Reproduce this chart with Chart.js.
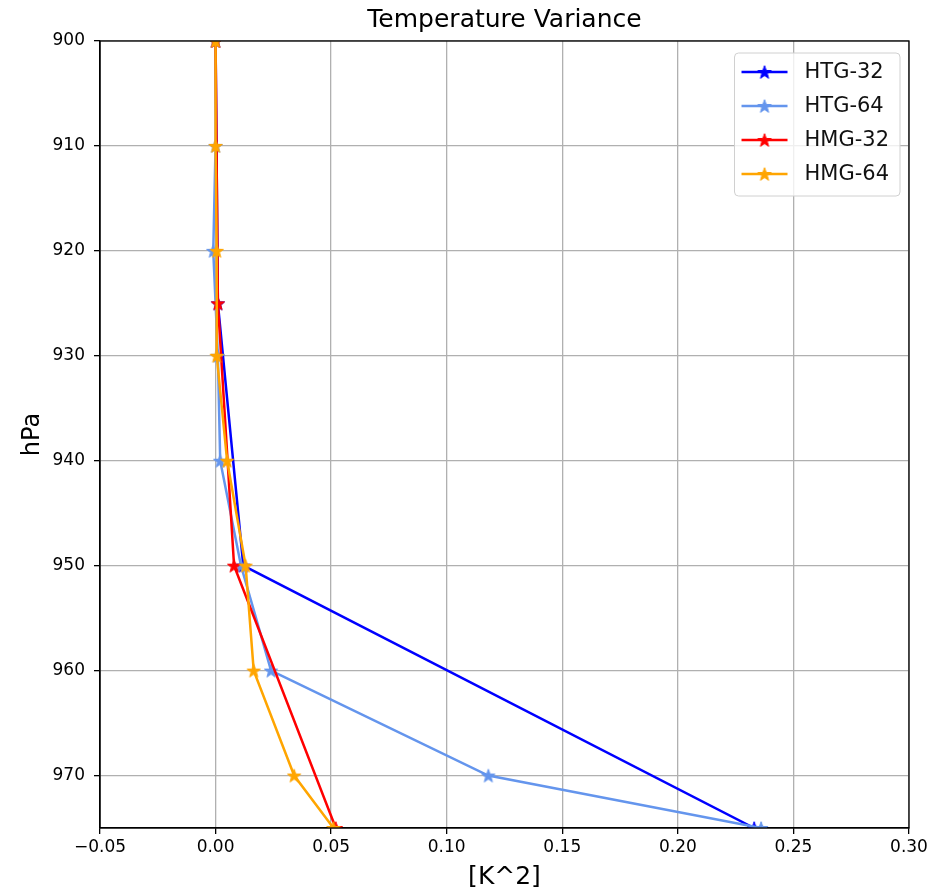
<!DOCTYPE html>
<html>
<head>
<meta charset="utf-8">
<script src="https://cdn.jsdelivr.net/npm/chart.js@4.4.1/dist/chart.umd.min.js"></script>
<style>
  html, body { margin: 0; padding: 0; background: #fff; }
  #wrap { width: 931px; height: 892px; }
</style>
</head>
<body>
<div id="wrap"><canvas id="chart" width="931" height="892"></canvas></div>
<script>
// pressure levels (hPa)
const levels32 = [900, 925, 950, 975];
const levels64 = [900, 910, 920, 930, 940, 950, 960, 970, 975];

// temperature variance [K^2]
const htg32 = [0.000, 0.001, 0.012, 0.233];
const htg64 = [0.000, 0.000, -0.001, 0.001, 0.002, 0.011, 0.024, 0.118, 0.236];
const hmg32 = [0.000, 0.001, 0.008, 0.052];
const hmg64 = [0.000, 0.000, 0.0005, 0.0005, 0.005, 0.013, 0.0165, 0.034, 0.051];

const seriesNames = ['HTG-32', 'HTG-64', 'HMG-32', 'HMG-64'];
const seriesColors = ['#0000ff', '#6495ed', '#ff0000', '#ffa500'];

const xTicks = [-0.05, 0.00, 0.05, 0.10, 0.15, 0.20, 0.25, 0.30];
const yTicks = [900, 910, 920, 930, 940, 950, 960, 970];

const FONT = 'DejaVu Sans';
Chart.defaults.font.family = FONT;

// filled five point star like matplotlib's '*' marker
function makeStar(color, r) {
    const s = Math.ceil(r * 2 + 2);
    const c = document.createElement('canvas');
    c.width = s;
    c.height = s;
    const g = c.getContext('2d');
    g.beginPath();
    for (let i = 0; i < 10; i++) {
        const rad = i % 2 === 0 ? r : r * 0.4;
        const a = -Math.PI / 2 + i * Math.PI / 5;
        const px = s / 2 + rad * Math.cos(a);
        const py = s / 2 + rad * Math.sin(a) + r * 0.1;
        if (i === 0) g.moveTo(px, py); else g.lineTo(px, py);
    }
    g.closePath();
    g.fillStyle = color;
    g.fill();
    g.strokeStyle = color;
    g.lineWidth = 1;
    g.stroke();
    return c;
}

const stars = seriesColors.map(c => makeStar(c, 7));

function toPoints(levels, vals) {
    return levels.map((p, i) => ({ x: vals[i], y: p }));
}

const seriesData = [
    toPoints(levels32, htg32),
    toPoints(levels64, htg64),
    toPoints(levels32, hmg32),
    toPoints(levels64, hmg64)
];

// box round the axes (matplotlib spines sit above the lines)
const frame = {
    id: 'frame',
    afterDatasetsDraw(chart) {
        const { ctx, chartArea: a } = chart;
        ctx.save();
        ctx.strokeStyle = '#000';
        ctx.lineWidth = 1.3;
        ctx.strokeRect(a.left, a.top, a.right - a.left, a.bottom - a.top);
        ctx.restore();
    }
};

// legend inside the upper right corner
const innerLegend = {
    id: 'innerLegend',
    afterDraw(chart) {
        const { ctx, chartArea: a } = chart;
        ctx.save();
        ctx.font = '21px "' + FONT + '"';
        let maxW = 0;
        seriesNames.forEach(n => { maxW = Math.max(maxW, ctx.measureText(n).width); });
        const w = 70 + maxW + 11;
        const h = 143;
        const right = a.right - 9;
        const left = right - w;
        const top = a.top + 12;

        ctx.beginPath();
        ctx.roundRect(left, top, w, h, 4);
        ctx.fillStyle = 'rgba(255,255,255,0.8)';
        ctx.fill();
        ctx.strokeStyle = '#d0d0d0';
        ctx.lineWidth = 1;
        ctx.stroke();

        seriesNames.forEach((name, i) => {
            const y = top + 19 + i * 34;
            ctx.beginPath();
            ctx.moveTo(left + 7, y);
            ctx.lineTo(left + 53, y);
            ctx.strokeStyle = seriesColors[i];
            ctx.lineWidth = 2.5;
            ctx.stroke();
            const st = stars[i];
            ctx.drawImage(st, left + 30 - st.width / 2, y - st.height / 2);
            ctx.fillStyle = '#111';
            ctx.textBaseline = 'middle';
            ctx.textAlign = 'left';
            ctx.fillText(name, left + 70, y + 1);
        });
        ctx.restore();
    }
};

const ctx = document.getElementById('chart').getContext('2d');
new Chart(ctx, {
    type: 'scatter',
    data: {
        datasets: seriesNames.map((name, i) => ({
            label: name,
            data: seriesData[i],
            showLine: true,
            borderColor: seriesColors[i],
            backgroundColor: seriesColors[i],
            borderWidth: 2.5,
            pointStyle: stars[i],
            pointRadius: 6,
            tension: 0,
            order: seriesNames.length - i // later series on top, as in matplotlib
        }))
    },
    options: {
        responsive: false,
        animation: false,
        devicePixelRatio: 1,
        layout: { padding: { left: 0, right: 22, top: 0, bottom: 0 } },
        scales: {
            x: {
                type: 'linear',
                position: 'bottom',
                min: -0.05,
                max: 0.30,
                afterBuildTicks: scale => { scale.ticks = xTicks.map(v => ({ value: v })); },
                afterFit: scale => { scale.height = 64; },
                ticks: {
                    font: { size: 17 },
                    color: '#000',
                    padding: 3,
                    maxRotation: 0,
                    callback: v => (v < 0 ? '\u2212' : '') + Math.abs(v).toFixed(2)
                },
                grid: { color: '#b0b0b0', lineWidth: 1.3, tickColor: '#000', tickLength: 6 },
                border: { color: '#000', width: 1.3 },
                title: {
                    display: true,
                    text: '[K^2]',
                    font: { size: 25 },
                    color: '#000',
                    padding: { top: 0, bottom: 0 }
                }
            },
            y: {
                type: 'linear',
                reverse: true,
                min: 900,
                max: 975,
                afterBuildTicks: scale => { scale.ticks = yTicks.map(v => ({ value: v })); },
                afterFit: scale => { scale.width = 100; },
                ticks: {
                    font: { size: 17 },
                    color: '#000',
                    padding: 9,
                    callback: v => String(v)
                },
                grid: { color: '#b0b0b0', lineWidth: 1.3, tickColor: '#000', tickLength: 6 },
                border: { color: '#000', width: 1.3 },
                title: {
                    display: true,
                    text: 'hPa',
                    font: { size: 24 },
                    color: '#000',
                    padding: { top: 18, bottom: 0 }
                }
            }
        },
        plugins: {
            title: {
                display: true,
                fullSize: false, // centre over the plot area like matplotlib
                text: 'Temperature Variance',
                font: { size: 25, weight: 'normal' },
                color: '#000',
                padding: { top: 5, bottom: 6 }
            },
            legend: { display: false },
            tooltip: { enabled: false }
        }
    },
    plugins: [frame, innerLegend]
});
</script>
</body>
</html>
